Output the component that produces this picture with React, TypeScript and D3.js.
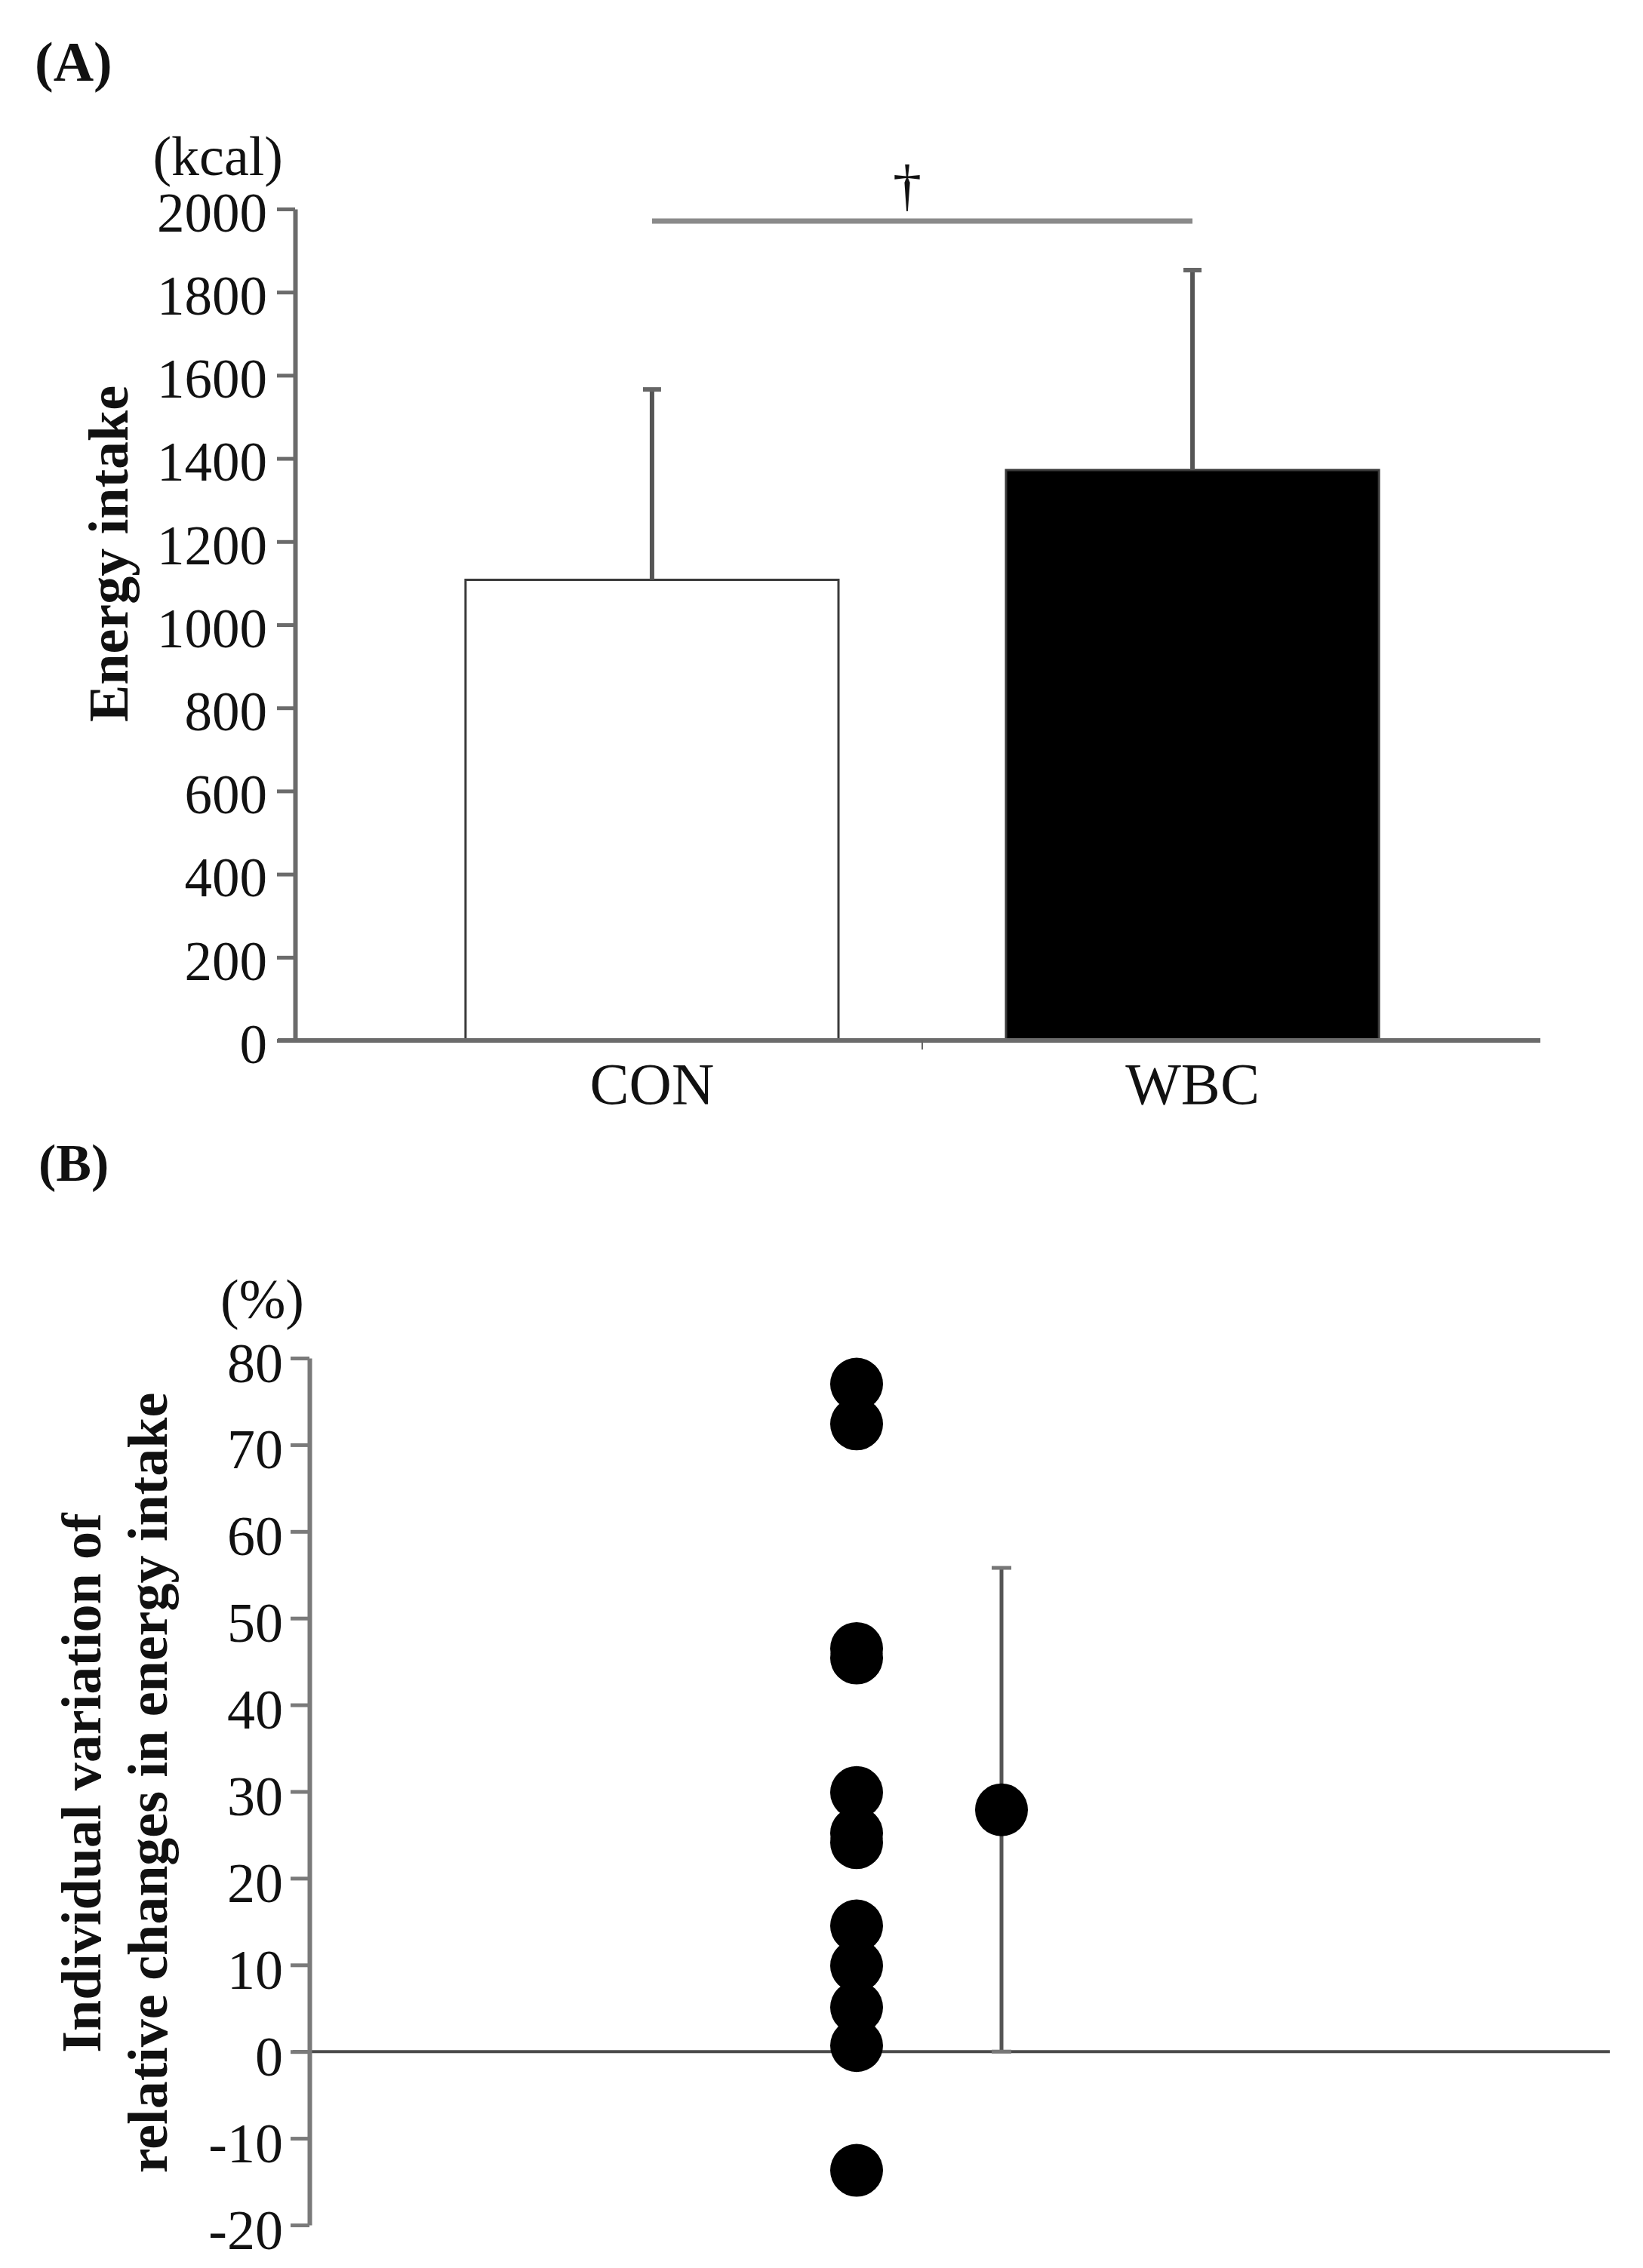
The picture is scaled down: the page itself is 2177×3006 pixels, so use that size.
import * as d3 from "d3";
import React, { useEffect, useRef } from "react";

// panel A: energy intake by condition
const groups = ["CON", "WBC"];
const groupMeans = [1108, 1372];
const groupSDs = [458, 481];
const groupFills = ["#ffffff", "#000000"];
const yTicksA = [0, 200, 400, 600, 800, 1000, 1200, 1400, 1600, 1800, 2000];
const sigLevel = 1971;

// panel B: individual relative change (%)
const individualChanges = [77.0, 72.4, 46.5, 45.4, 29.9, 25.2, 24.1, 14.5, 9.9, 5.1, 0.7, -13.7];
const changeMean = 27.9;
const changeSD = 27.9;
const yTicksB = [-20, -10, 0, 10, 20, 30, 40, 50, 60, 70, 80];
const pointsB = ["individual", "mean"];

const FONT = "'Liberation Serif', 'Times New Roman', serif";

const App: React.FC = () => {
  const ref = useRef<SVGSVGElement | null>(null);

  useEffect(() => {
    if (!ref.current) return;
    const svg = d3.select(ref.current);
    svg.selectAll("*").remove();
    svg.style("font-family", FONT);

    // ---------- panel A ----------
    const yA = d3.scaleLinear().domain([0, 2000]).range([1379, 277]);
    const xA = d3
      .scaleBand()
      .domain(groups)
      .range([397, 2047])
      .paddingInner(0.31)
      .paddingOuter(0.307);
    const cx = (g: string) => xA(g)! + xA.bandwidth() / 2;

    const gA = svg.append("g");

    // bars
    gA.selectAll("rect.bar")
      .data(groups)
      .enter()
      .append("rect")
      .attr("x", (d) => xA(d)!)
      .attr("y", (_d, i) => yA(groupMeans[i]))
      .attr("width", xA.bandwidth())
      .attr("height", (_d, i) => yA(0) - yA(groupMeans[i]))
      .attr("fill", (_d, i) => groupFills[i])
      .attr("stroke", "#3a3a3a")
      .attr("stroke-width", 3);

    // error bars (upper only)
    groups.forEach((g, i) => {
      gA.append("line")
        .attr("x1", cx(g))
        .attr("x2", cx(g))
        .attr("y1", yA(groupMeans[i]))
        .attr("y2", yA(groupMeans[i] + groupSDs[i]))
        .attr("stroke", "#555")
        .attr("stroke-width", 6);
      gA.append("line")
        .attr("x1", cx(g) - 12)
        .attr("x2", cx(g) + 12)
        .attr("y1", yA(groupMeans[i] + groupSDs[i]))
        .attr("y2", yA(groupMeans[i] + groupSDs[i]))
        .attr("stroke", "#666")
        .attr("stroke-width", 6);
    });

    // significance bracket
    gA.append("line")
      .attr("x1", cx(groups[0]))
      .attr("x2", cx(groups[1]))
      .attr("y1", yA(sigLevel))
      .attr("y2", yA(sigLevel))
      .attr("stroke", "#8a8a8a")
      .attr("stroke-width", 7);
    gA.append("text")
      .attr("x", (cx(groups[0]) + cx(groups[1])) / 2 - 20)
      .attr("y", yA(sigLevel) - 22)
      .attr("text-anchor", "middle")
      .style("font-size", "76px")
      .attr("fill", "#111")
      .text("†");

    // x axis
    gA.append("line")
      .attr("x1", 368)
      .attr("x2", 2041)
      .attr("y1", yA(0))
      .attr("y2", yA(0))
      .attr("stroke", "#6b6b6b")
      .attr("stroke-width", 6);
    const midX = (cx(groups[0]) + cx(groups[1])) / 2;
    gA.append("line")
      .attr("x1", midX)
      .attr("x2", midX)
      .attr("y1", yA(0))
      .attr("y2", yA(0) + 12)
      .attr("stroke", "#666")
      .attr("stroke-width", 2);
    gA.selectAll("text.cat")
      .data(groups)
      .enter()
      .append("text")
      .attr("x", (d) => cx(d))
      .attr("y", 1463)
      .attr("text-anchor", "middle")
      .style("font-size", "78px")
      .attr("fill", "#111")
      .text((d) => d);

    // y axis
    const axA = gA
      .append("g")
      .attr("transform", "translate(391,0)")
      .call(
        d3
          .axisLeft(yA)
          .tickValues(yTicksA)
          .tickFormat((d) => String(d))
          .tickSize(24)
          .tickSizeOuter(0)
          .tickPadding(13)
      );
    axA.select(".domain").attr("stroke", "#6b6b6b").attr("stroke-width", 6);
    axA.selectAll(".tick line").attr("stroke", "#6b6b6b").attr("stroke-width", 5);
    axA.selectAll(".tick text")
      .attr("dy", "0.4em")
      .attr("fill", "#111")
      .style("font-size", "73px")
      .style("font-family", FONT);

    gA.append("text")
      .attr("x", 46)
      .attr("y", 107)
      .style("font-size", "74px")
      .style("font-weight", "bold")
      .attr("fill", "#111")
      .text("(A)");
    gA.append("text")
      .attr("x", 375)
      .attr("y", 232)
      .attr("text-anchor", "end")
      .style("font-size", "74px")
      .attr("fill", "#111")
      .text("(kcal)");
    gA.append("text")
      .attr("transform", "translate(169,734) rotate(-90)")
      .attr("text-anchor", "middle")
      .style("font-size", "74px")
      .style("font-weight", "bold")
      .attr("fill", "#111")
      .text("Energy intake");

    // ---------- panel B ----------
    const yB = d3.scaleLinear().domain([-20, 80]).range([2949, 1800]);
    const xB = d3.scalePoint().domain(pointsB).range([1135, 1327]);
    const gB = svg.append("g");

    // zero line
    gB.append("line")
      .attr("x1", 388)
      .attr("x2", 2133)
      .attr("y1", yB(0))
      .attr("y2", yB(0))
      .attr("stroke", "#4a4a4a")
      .attr("stroke-width", 4);

    const axB = gB
      .append("g")
      .attr("transform", "translate(410,0)")
      .call(
        d3
          .axisLeft(yB)
          .tickValues(yTicksB)
          .tickFormat((d) => String(d))
          .tickSize(25)
          .tickSizeOuter(0)
          .tickPadding(10)
      );
    axB.select(".domain").attr("stroke", "#7a7a7a").attr("stroke-width", 6);
    axB.selectAll(".tick line").attr("stroke", "#7a7a7a").attr("stroke-width", 5);
    axB.selectAll(".tick text")
      .attr("dy", "0.42em")
      .attr("fill", "#111")
      .style("font-size", "74px")
      .style("font-family", FONT);

    // individual points
    gB.selectAll("circle.ind")
      .data(individualChanges)
      .enter()
      .append("circle")
      .attr("cx", xB("individual")!)
      .attr("cy", (d) => yB(d))
      .attr("r", 35)
      .attr("fill", "#000");

    // mean +- SD
    const mx = xB("mean")!;
    gB.append("line")
      .attr("x1", mx)
      .attr("x2", mx)
      .attr("y1", yB(changeMean - changeSD))
      .attr("y2", yB(changeMean + changeSD))
      .attr("stroke", "#555")
      .attr("stroke-width", 5);
    [changeMean - changeSD, changeMean + changeSD].forEach((v) => {
      gB.append("line")
        .attr("x1", mx - 13)
        .attr("x2", mx + 13)
        .attr("y1", yB(v))
        .attr("y2", yB(v))
        .attr("stroke", "#777")
        .attr("stroke-width", 5);
    });
    gB.append("circle")
      .attr("cx", mx)
      .attr("cy", yB(changeMean))
      .attr("r", 35)
      .attr("fill", "#000");

    gB.append("text")
      .attr("x", 51)
      .attr("y", 1565)
      .style("font-size", "70px")
      .style("font-weight", "bold")
      .attr("fill", "#111")
      .text("(B)");
    gB.append("text")
      .attr("x", 403)
      .attr("y", 1747)
      .attr("text-anchor", "end")
      .style("font-size", "74px")
      .attr("fill", "#111")
      .text("(%)");
    gB.append("text")
      .attr("transform", "translate(133,2363) rotate(-90)")
      .attr("text-anchor", "middle")
      .style("font-size", "74px")
      .style("font-weight", "bold")
      .attr("fill", "#111")
      .text("Individual variation of");
    gB.append("text")
      .attr("transform", "translate(221,2363) rotate(-90)")
      .attr("text-anchor", "middle")
      .style("font-size", "74px")
      .style("font-weight", "bold")
      .attr("fill", "#111")
      .text("relative changes in energy intake");
  }, []);

  return (
    <svg
      ref={ref}
      width={2177}
      height={3006}
      style={{ position: "absolute", left: 0, top: 0, background: "#fff" }}
    ></svg>
  );
};

export default App;
